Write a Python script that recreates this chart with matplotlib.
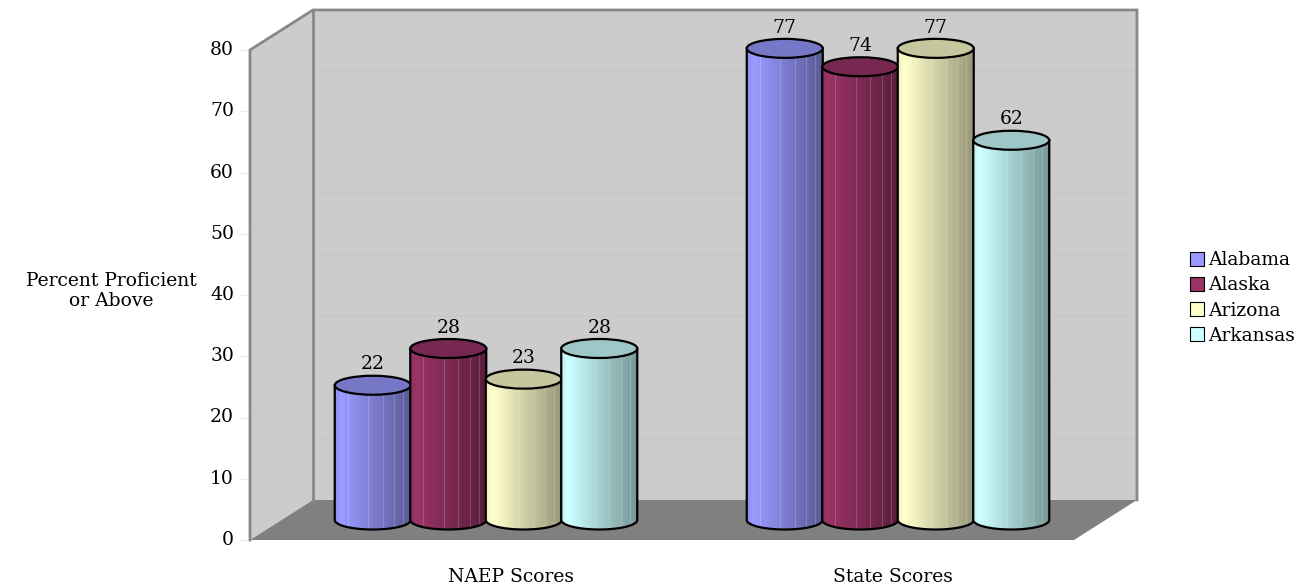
import numpy as np
import matplotlib
matplotlib.use("Agg")
import matplotlib.pyplot as plt
from matplotlib.patches import Ellipse, PathPatch, Polygon, Patch
from matplotlib.path import Path
from matplotlib.colors import to_rgb

# data
categories = ["NAEP Scores", "State Scores"]
states = ["Alabama", "Alaska", "Arizona", "Arkansas"]
naep = [22, 28, 23, 28]
state_scores = [77, 74, 77, 62]
yticks = [0, 10, 20, 30, 40, 50, 60, 70, 80]
colors = ["#9999FF", "#993366", "#FFFFCC", "#CCFFFF"]

FONT = "DejaVu Serif"
FS = 13.5
PX = 6.125          # pixels per percent point
DX, DY = 63, 40 / PX  # depth offset of the back wall (x in px, y in value units)
X0, X1 = 250, 1074  # front edge of the plot floor
WALL = "#cccccc"
EDGE = "#888888"

fig = plt.figure(figsize=(13.04, 5.85), dpi=100)
ax = fig.add_axes([0, 0, 1, 1])
ax.set_xlim(0, 1304)
ylim = (-45 / PX, 540 / PX)
ax.set_ylim(*ylim)
ax.axis("off")

top = yticks[-1]
# side wall, back wall, floor
ax.add_patch(Polygon([(X0, 0), (X0, top), (X0 + DX, top + DY), (X0 + DX, DY)],
                     closed=True, facecolor=WALL, edgecolor="none", zorder=1))
ax.add_patch(Polygon([(X0 + DX, DY), (X0 + DX, top + DY), (X1 + DX, top + DY), (X1 + DX, DY)],
                     closed=True, facecolor=WALL, edgecolor="none", zorder=1))
ax.add_patch(Polygon([(X0, 0), (X1, 0), (X1 + DX, DY), (X0 + DX, DY)],
                     closed=True, facecolor="#808080", edgecolor="none", zorder=2))

# faint gridlines and ticks
for t in yticks[1:-1]:
    ax.plot([X0, X0 + DX, X1 + DX], [t, t + DY, t + DY], color="#c6c6c6", lw=0.7, zorder=1.5)
for t in yticks:
    ax.plot([X0 - 10, X0], [t, t], color="#ececec", lw=0.8, zorder=1.5)
    ax.text(X0 - 16, t, str(t), ha="right", va="center", fontsize=FS, family=FONT)

# wall edges
ax.plot([X0, X0, X0 + DX, X1 + DX, X1 + DX], [0, top, top + DY, top + DY, DY],
        color=EDGE, lw=2, zorder=3, solid_joinstyle="miter")
ax.plot([X0 + DX, X0 + DX], [DY, top + DY], color=EDGE, lw=2, zorder=3)


def shade(rgb, f):
    return tuple(min(1, c * f) for c in rgb)


def cylinder(cx, value, color, z):
    r = 38
    e = 9.5 / PX
    base = DY / 2
    ytop = value + DY / 2
    rgb = np.array(to_rgb(color))
    t = np.linspace(np.pi, 2 * np.pi, 60)
    pts = [(cx - r, ytop)] + list(zip(cx + r * np.cos(t), base + e * np.sin(t))) + [(cx + r, ytop)]
    body = PathPatch(Path(pts + [pts[0]], closed=True), facecolor="none",
                     edgecolor="black", lw=1.6, zorder=z + 1)
    ax.add_patch(body)
    # horizontal shading across the body
    u = np.linspace(0, 1, 200)
    f = np.where(u < 0.08, 0.93 + u, 1.01 - 0.42 * (u - 0.08) / 0.92)
    grad = np.clip(rgb[None, :] * f[:, None], 0, 1)[None, :, :]
    im = ax.imshow(grad, extent=[cx - r, cx + r, base - e, ytop], aspect="auto",
                   interpolation="bilinear", zorder=z)
    im.set_clip_path(body)
    for fx in (0.17, 0.44, 0.63, 0.78, 0.9):
        ln, = ax.plot([cx - r + 2 * r * fx] * 2, [base - e * 0.9, ytop], color="white",
                      alpha=0.18, lw=0.8, zorder=z + 0.5)
        ln.set_clip_path(body)
    ax.add_patch(Ellipse((cx, ytop), 2 * r, 2 * e, facecolor=shade(rgb, 0.78),
                         edgecolor="black", lw=1.6, zorder=z + 2))
    ax.text(cx, ytop + 3.4, str(value), ha="center", va="center", fontsize=FS, family=FONT,
            zorder=z + 3)


group_x = [486, 898]
step = 75.5
for g, vals in enumerate([naep, state_scores]):
    for i, (v, c) in enumerate(zip(vals, colors)):
        cylinder(group_x[g] + (i - 1.5) * step, v, c, 10 + 4 * i)

for x, lab in zip([511, 893], categories):
    ax.text(x, -37 / PX, lab, ha="center", va="center", fontsize=FS, family=FONT)

ax.text(111, 40 + 4 / PX, "Percent Proficient\nor Above", ha="center", va="center",
        fontsize=FS, family=FONT, linespacing=1.15)

handles = [Patch(facecolor=c, edgecolor="black", lw=0.8) for c in colors]
ax.legend(handles, states, loc="center left", bbox_to_anchor=(1181 / 1304, 1 - 298 / 585),
          frameon=False, prop={"family": FONT, "size": FS}, handlelength=0.75,
          handleheight=0.75, handletextpad=0.2, labelspacing=0.38, borderpad=0)

ax.set_ylim(*ylim)
ax.set_xlim(0, 1304)
fig.savefig("out.png", dpi=100)
